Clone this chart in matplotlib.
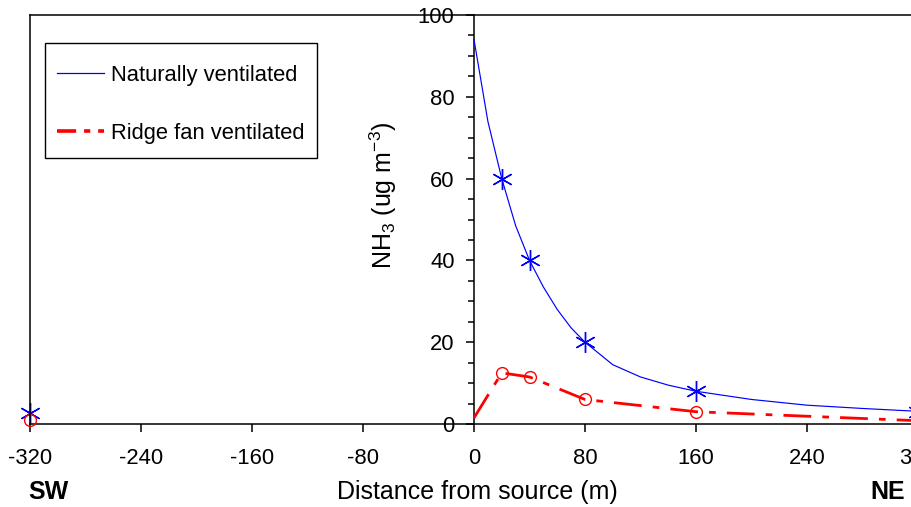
import matplotlib
matplotlib.use("Agg")
import matplotlib.pyplot as plt
from matplotlib.lines import Line2D
from matplotlib.patches import Rectangle

plt.rcParams['font.family'] = ['Liberation Sans', 'DejaVu Sans']
plt.rcParams['mathtext.default'] = 'regular'

# Measured points
nat_x = [-320, 20, 40, 80, 160, 320]
nat_y = [2.8, 60, 40, 20, 8, 3.0]
# Fitted curve for naturally ventilated (downwind side)
fit_x = [0, 10, 20, 30, 40, 50, 60, 70, 80, 100, 120, 140, 160, 200, 240, 280, 320]
fit_y = [94, 74, 60, 48.5, 40, 33.5, 28, 23.5, 20, 14.5, 11.5, 9.5, 8, 6, 4.6, 3.8, 3.1]

rid_x = [-320, 20, 40, 80, 160, 320]
rid_y = [1.0, 12.5, 11.5, 6, 3, 1.0]
rid_line_x = [0, 20, 40, 80, 160, 320]
rid_line_y = [1.5, 12.5, 11.5, 6, 3, 0.8]

xticks = [-320, -240, -160, -80, 0, 80, 160, 240, 320]
yticks = [0, 20, 40, 60, 80, 100]

W, H = 912, 507
fig = plt.figure(figsize=(W/100, H/100), dpi=100)
ax = fig.add_axes([30/W, 1-424/H, 888/W, 409/H])
FS = 15.8
FL = 18

ax.plot(fit_x, fit_y, color='#0000ff', lw=0.85, zorder=3)
ax.plot(nat_x, nat_y, linestyle='none', marker=(6, 2, 0), markersize=15,
        markeredgecolor='#0000ff', markeredgewidth=1.0, color='#0000ff', clip_on=False, zorder=4)

red_line, = ax.plot(rid_line_x, rid_line_y, color='#ff0000', lw=2.0, zorder=3)
red_line.set_dashes((10, 4, 2.4, 4))
ax.plot(rid_x, rid_y, linestyle='none', marker='o', markersize=8.5,
        markerfacecolor='none', markeredgecolor='#ff0000', markeredgewidth=1.0,
        clip_on=False, zorder=4)

ax.set_xlim(-320, 320)
ax.set_ylim(0, 100)

ax.spines['left'].set_position(('data', 0))
for s in ax.spines.values():
    s.set_linewidth(1.1)
ax.axvline(-320, color='black', lw=1.1, clip_on=False, zorder=5)

ax.set_xticks(xticks)
ax.set_xticklabels([str(v) for v in xticks], fontsize=FS)
ax.set_yticks(yticks)
ax.set_yticklabels([str(v) for v in yticks], fontsize=FS)
ax.set_yticks(range(0, 101, 5), minor=True)
ax.tick_params(axis='x', direction='out', length=6, width=1.1, pad=11)
ax.tick_params(axis='y', which='major', direction='out', length=6, width=1.1, pad=8)
ax.tick_params(axis='y', which='minor', direction='out', length=4, width=1.1)
ax.tick_params(axis='x', which='minor', bottom=False)

fig.text(383/W, 1-195/H, 'NH$_3$ (ug m$^{-3}$)', rotation=90, ha='center', va='center', fontsize=FL)
fig.text(477/W, 1-492/H, 'Distance from source (m)', ha='center', va='center', fontsize=FL)
fig.text(48/W, 1-492/H, 'SW', ha='center', va='center', fontsize=FL, fontweight='bold')
fig.text(888/W, 1-492/H, 'NE', ha='center', va='center', fontsize=FL, fontweight='bold')

h1 = Line2D([], [], color='#0000ff', lw=0.9)
h2 = Line2D([], [], color='#ff0000', lw=2.6)
h2.set_dashes((5.3, 2.2, 1.7, 2.2))
leg = fig.legend([h1, h2], ['Naturally ventilated', 'Ridge fan ventilated'],
                 loc='upper left', bbox_to_anchor=(57/W, 1-65/H), borderaxespad=0,
                 fontsize=FS, frameon=False,
                 labelspacing=1.68, handlelength=2.15, handletextpad=0.3, borderpad=0)
fig.patches.append(Rectangle((45/W, 1-158/H), 272/W, 115/H, transform=fig.transFigure,
                             fill=False, edgecolor='black', lw=1.0, figure=fig))

fig.savefig('out.png', dpi=100)
